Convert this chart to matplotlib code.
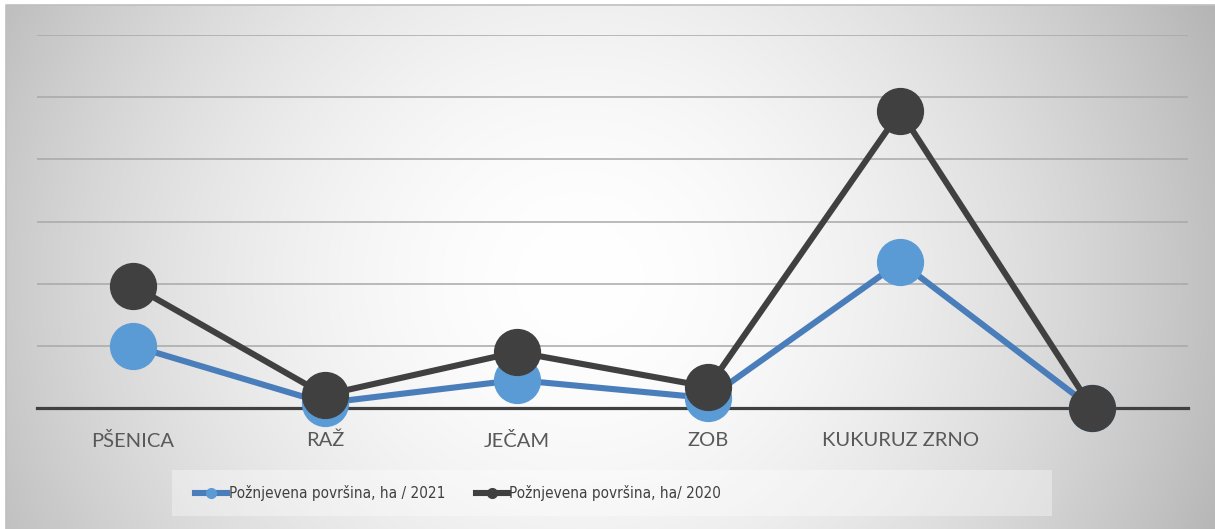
import numpy as np
import matplotlib.pyplot as plt
from matplotlib.lines import Line2D
from matplotlib.patches import Rectangle
from matplotlib import font_manager

plt.rcParams['font.family'] = ['Lato', 'DejaVu Sans']

# data (one gridline step = 1 unit)
categories = ['PŠENICA', 'RAŽ', 'JEČAM', 'ZOB', 'KUKURUZ ZRNO', '']
area_2021 = [1.00, 0.08, 0.45, 0.16, 2.35, 0.0]
area_2020 = [1.97, 0.21, 0.90, 0.34, 4.77, 0.0]
series_labels = ['Požnjevena površina, ha / 2021', 'Požnjevena površina, ha/ 2020']

W, H = 1215, 529
fig = plt.figure(figsize=(W / 100, H / 100), dpi=100)
fig.patch.set_facecolor('white')

# radial gray background like the Excel chart area
bg = fig.add_axes([0, 0, 1, 1], zorder=-10)
yy, xx = np.mgrid[0:H, 0:W]
r = np.hypot((xx - 580) / 640.0, (yy - 280) / 600.0)
shade = 1 - 0.25 * np.clip(r, 0, 1.15) ** 1.8
img = np.dstack([shade] * 3)
img[:5, :, :] = 1.0
img[:, :6, :] = 1.0
bg.imshow(img, extent=[0, W, H, 0], aspect='auto', interpolation='bilinear')
bg.plot([6, 6, W], [H, 5, 5], color='#bfbfbf', lw=1.2)
bg.set_xlim(0, W)
bg.set_ylim(H, 0)
bg.axis('off')

# legend box
bg.add_patch(Rectangle((172, 470), 880, 46, facecolor='white', alpha=0.35, edgecolor='none'))

ax = fig.add_axes([37 / W, (H - 408) / H, (1188 - 37) / W, (408 - 35) / H])
ax.patch.set_alpha(0)
x = np.arange(len(categories))
ax.set_xlim(-0.5, len(categories) - 0.5)
ax.set_ylim(0, 6)

for yv in range(1, 7):
    ax.axhline(yv, color='#a8a8a8', lw=1.1, zorder=1)
ax.axhline(0, color='#404040', lw=2.3, zorder=2, clip_on=False)

ax.plot(x, area_2021, color='#4a7ebb', lw=4.4, marker='o', ms=33,
        mfc='#5b9bd5', mec='#5b9bd5', zorder=3, clip_on=False)
ax.plot(x, area_2020, color='#404040', lw=4.4, marker='o', ms=33,
        mfc='#404040', mec='#404040', zorder=4, clip_on=False)

for s in ax.spines.values():
    s.set_visible(False)
ax.set_yticks([])
ax.set_xticks(x)
ax.set_xticklabels(categories, fontsize=14.5, color='#595959')
ax.tick_params(axis='x', length=0, pad=17)

handles = [
    Line2D([], [], color='#4a7ebb', lw=4.4, marker='o', ms=7, mfc='#5b9bd5', mec='#5b9bd5'),
    Line2D([], [], color='#404040', lw=4.4, marker='o', ms=7, mfc='#404040', mec='#404040'),
]
leg_font = font_manager.FontProperties(family=['DejaVu Sans'], stretch='condensed', size=11)
fig.legend(handles, series_labels, loc='center left', bbox_to_anchor=(195 / W, 1 - 493 / H),
           ncol=2, frameon=False, prop=leg_font,
           handlelength=2.1, handletextpad=0.1,
           columnspacing=2.0, labelcolor='#404040', borderaxespad=0, borderpad=0)

fig.savefig('out.png', dpi=100)
